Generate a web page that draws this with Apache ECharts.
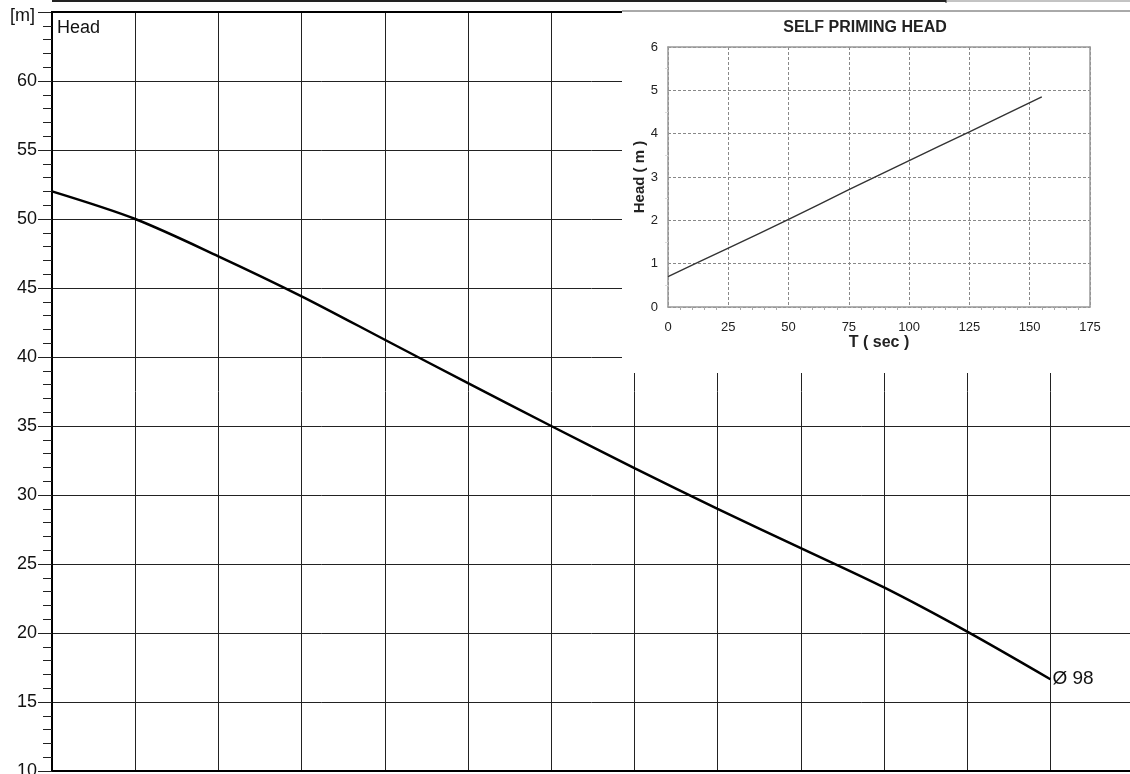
<!DOCTYPE html>
<html>
<head>
<meta charset="utf-8">
<script src="https://cdn.jsdelivr.net/npm/echarts@6/dist/echarts.min.js"></script>
<style>html,body{margin:0;padding:0;background:#fff;overflow:hidden}#c{width:1130px;height:774px}</style>
</head>
<body>
<div id="c"></div>
<script>
// Main pump curve (x = grid column index, head in m)
const mainX = [0, 1, 2, 3, 4, 5, 6, 7, 8, 9, 10, 11, 12];
const mainHead = [52.0, 50.0, 47.3, 44.4, 41.25, 38.1, 35.0, 31.95, 29.0, 26.15, 23.3, 20.1, 16.65];
const curveLabel = 'Ø 98';
// Inset: self priming head
const primeT = [0, 25, 50, 75, 100, 125, 155];
const primeHead = [0.70, 1.36, 2.02, 2.71, 3.38, 4.04, 4.85];
const insetTitle = 'SELF PRIMING HEAD';

const FONT = 'Liberation Sans, Arial, sans-serif';
const chart = echarts.init(document.getElementById('c'));
chart.setOption({
  animation: false,
  backgroundColor: '#fff',
  title: {
    text: insetTitle, left: 865, top: 20, textAlign: 'center', padding: 0, z: 12,
    textStyle: {fontFamily: FONT, fontSize: 16, fontWeight: 'bold', color: '#222'}
  },
  grid: [
    {left: 52, top: 12, width: 1081.6, height: 759, outerBoundsMode: 'none', containLabel: false},
    {left: 668, top: 47, width: 422, height: 260, outerBoundsMode: 'none', containLabel: false}
  ],
  xAxis: [
    {
      gridIndex: 0, type: 'value', min: 0, max: 13, interval: 1,
      axisLine: {show: true, onZero: false, lineStyle: {color: '#000', width: 2}},
      axisTick: {show: false}, axisLabel: {show: false},
      splitLine: {show: true, lineStyle: {color: '#222', width: 1}}
    },
    {
      gridIndex: 1, type: 'value', min: 0, max: 175, interval: 25, z: 10,
      name: 'T ( sec )', nameLocation: 'middle', nameGap: 28,
      nameTextStyle: {fontFamily: FONT, fontSize: 16, fontWeight: 'bold', color: '#222'},
      axisLine: {show: true, onZero: false, lineStyle: {color: '#999', width: 1.5}},
      axisTick: {show: false},
      minorTick: {show: true, splitNumber: 5, length: 3, lineStyle: {color: '#aaa'}},
      axisLabel: {fontFamily: FONT, fontSize: 13, color: '#222', margin: 14},
      splitLine: {show: true, lineStyle: {color: '#888', width: 1, type: [3, 2]}}
    },
    {
      gridIndex: 1, type: 'value', min: 0, max: 175, position: 'top', z: 10,
      axisLine: {show: true, onZero: false, lineStyle: {color: '#999', width: 1.5}},
      axisTick: {show: false}, axisLabel: {show: false}, splitLine: {show: false}
    }
  ],
  yAxis: [
    {
      gridIndex: 0, type: 'value', min: 10, max: 65, interval: 5,
      axisLine: {show: true, onZero: false, lineStyle: {color: '#000', width: 2}},
      axisTick: {show: true, length: 14, lineStyle: {color: '#222', width: 1}},
      minorTick: {show: true, splitNumber: 5, length: 9, lineStyle: {color: '#222', width: 1}},
      axisLabel: {fontFamily: FONT, fontSize: 18, color: '#111', margin: 15,
        formatter: v => (v === 65 ? '' : String(v))},
      splitLine: {show: true, lineStyle: {color: '#222', width: 1}}
    },
    {
      gridIndex: 1, type: 'value', min: 0, max: 6, interval: 1, z: 10,
      name: 'Head ( m )', nameLocation: 'middle', nameGap: 21, nameRotate: 90,
      nameTextStyle: {fontFamily: FONT, fontSize: 15, fontWeight: 'bold', color: '#222'},
      axisLine: {show: true, onZero: false, lineStyle: {color: '#999', width: 1.5}},
      axisTick: {show: false},
      minorTick: {show: true, splitNumber: 2, length: 3, lineStyle: {color: '#ddd'}},
      axisLabel: {fontFamily: FONT, fontSize: 13, color: '#222', margin: 10},
      splitLine: {show: true, lineStyle: {color: '#888', width: 1, type: [3, 2]}}
    },
    {
      gridIndex: 1, type: 'value', min: 0, max: 6, position: 'right', z: 10,
      axisLine: {show: true, onZero: false, lineStyle: {color: '#999', width: 1.5}},
      axisTick: {show: false}, axisLabel: {show: false}, splitLine: {show: false}
    }
  ],
  graphic: [
    {type: 'rect', z: 5, silent: true, shape: {x: 622, y: 10, width: 520, height: 363}, style: {fill: '#fff'}},
    {type: 'line', z: 6, shape: {x1: 51, y1: 12, x2: 622, y2: 12}, style: {stroke: '#000', lineWidth: 2}},
    {type: 'line', z: 6, shape: {x1: 622, y1: 11, x2: 1130, y2: 11}, style: {stroke: '#555', lineWidth: 1}},
    {type: 'line', z: 6, shape: {x1: 52, y1: 1, x2: 946, y2: 1}, style: {stroke: '#222', lineWidth: 2}},
    {type: 'line', z: 6, shape: {x1: 946, y1: 1, x2: 1130, y2: 1}, style: {stroke: '#888', lineWidth: 1}},
    {type: 'line', z: 6, shape: {x1: 946, y1: 0, x2: 946, y2: 3}, style: {stroke: '#222', lineWidth: 1}},
    {type: 'text', z: 6, x: 57, y: 28, style: {text: 'Head', font: '18px ' + FONT, fill: '#111', verticalAlign: 'middle'}},
    {type: 'text', z: 6, x: 10, y: 16, style: {text: '[m]', font: '18px ' + FONT, fill: '#111', verticalAlign: 'middle'}}
  ],
  series: [
    {
      type: 'line', xAxisIndex: 0, yAxisIndex: 0, z: 3,
      data: mainX.map((x, i) => [x, mainHead[i]]),
      smooth: 0.3, showSymbol: false, symbol: 'none',
      lineStyle: {color: '#000', width: 2.5},
      endLabel: {show: true, formatter: curveLabel, distance: 2,
        fontFamily: FONT, fontSize: 19, color: '#111'}
    },
    {
      type: 'line', xAxisIndex: 1, yAxisIndex: 1, z: 12,
      data: primeT.map((t, i) => [t, primeHead[i]]),
      smooth: 0.2, showSymbol: false, symbol: 'none',
      lineStyle: {color: '#333', width: 1.4}
    }
  ]
});
</script>
</body>
</html>
